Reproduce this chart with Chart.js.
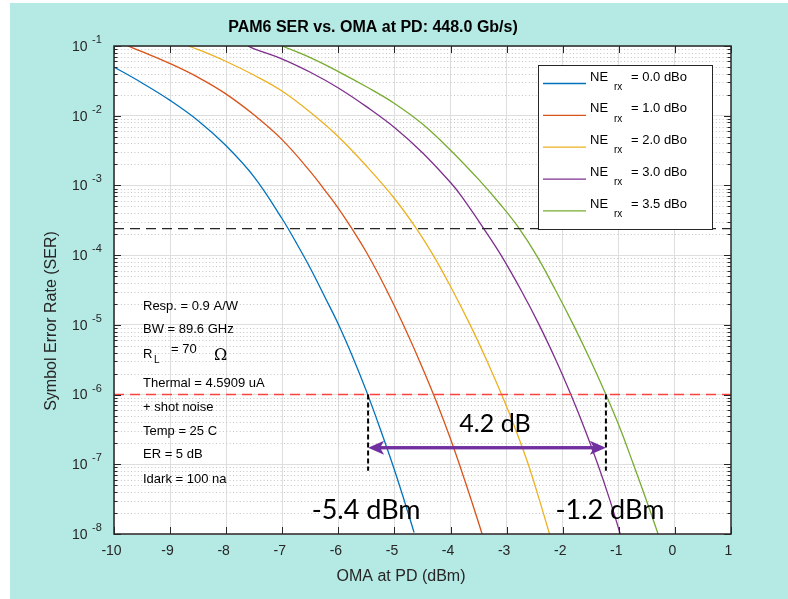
<!DOCTYPE html>
<html lang="en">
<head>
<meta charset="UTF-8">
<title>PAM6 SER vs. OMA at PD</title>
<script src="https://cdn.jsdelivr.net/npm/chart.js@4"></script>
<style>
  html, body { margin: 0; padding: 0; background: #fff; }
  canvas { display: block; }
</style>
</head>
<body>
<canvas id="grafica" width="788" height="599"></canvas>
<script>
// curves: OMA at PD (dBm) -> SER
const ne00_x   = [-10, -9.5, -9, -8.5, -8, -7.5, -7, -6.75, -6.5, -6.25, -6, -5.75, -5.5, -5.25, -5, -4.8, -4.65];
const ne00_ser = [5.0e-2, 2.95e-2, 1.66e-2, 8.5e-3, 3.7e-3, 1.32e-3, 3.3e-4, 1.5e-4, 6.5e-5, 2.6e-5, 1.02e-5, 3.55e-6, 1.12e-6, 3.16e-7, 8.3e-8, 2.6e-8, 1.05e-8];

const ne10_x   = [-9.75, -9.5, -9, -8.5, -8, -7.5, -7, -6.5, -6.25, -6, -5.75, -5.5, -5.25, -5, -4.75, -4.5, -4.25, -4, -3.75, -3.5, -3.4];
const ne10_ser = [1e-1, 8.3e-2, 5.6e-2, 3.55e-2, 2.04e-2, 1.02e-2, 4.5e-3, 1.58e-3, 8.7e-4, 4.7e-4, 2.34e-4, 1.1e-4, 4.7e-5, 1.86e-5, 6.9e-6, 2.4e-6, 7.8e-7, 2.3e-7, 6.0e-8, 1.45e-8, 7.9e-9];

const ne20_x   = [-8.68, -8.5, -8, -7.5, -7, -6.5, -6, -5.5, -5, -4.6, -4.31, -4, -3.65, -3.36, -3.09, -2.84, -2.615, -2.42, -2.235];
const ne20_ser = [1e-1, 8.9e-2, 6.0e-2, 3.8e-2, 2.24e-2, 1.12e-2, 5.0e-3, 1.9e-3, 6.5e-4, 2.35e-4, 1e-4, 3.55e-5, 1e-5, 3.16e-6, 1e-6, 3.16e-7, 1e-7, 3.16e-8, 1e-8];

const ne30_x   = [-7.61, -7.5, -7, -6.5, -6, -5.5, -5, -4.5, -4, -3.8, -3.4, -3.1, -2.745, -2.42, -2.125, -1.855, -1.605, -1.375, -1.165, -0.975];
const ne30_ser = [1e-1, 9.1e-2, 6.5e-2, 4.2e-2, 2.5e-2, 1.35e-2, 6.8e-3, 2.95e-3, 1.1e-3, 6.9e-4, 2.35e-4, 1e-4, 3.16e-5, 1e-5, 3.16e-6, 1e-6, 3.16e-7, 1e-7, 3.16e-8, 1e-8];

const ne35_x   = [-7.0, -6.5, -6, -5.5, -5, -4.5, -4, -3.48, -3.1, -2.79, -2.47, -2.13, -1.81, -1.51, -1.23, -0.97, -0.74, -0.515, -0.30];
const ne35_ser = [1e-1, 6.8e-2, 4.3e-2, 2.6e-2, 1.5e-2, 7.6e-3, 3.2e-3, 1.17e-3, 5.2e-4, 2.5e-4, 1e-4, 3.16e-5, 1e-5, 3.16e-6, 1e-6, 3.16e-7, 1e-7, 3.16e-8, 1e-8];

const neLabels  = ['0.0', '1.0', '2.0', '3.0', '3.5'];
const xTicks    = [-10, -9, -8, -7, -6, -5, -4, -3, -2, -1, 0, 1];
const yDecades  = [1e-8, 1e-7, 1e-6, 1e-5, 1e-4, 1e-3, 1e-2, 1e-1];
const yExps     = ['-8', '-7', '-6', '-5', '-4', '-3', '-2', '-1'];

const fecSer     = 2.4e-4;          // black dashed limit
const targetSer  = 1e-6;            // red dashed target
const crossOma   = [-5.47, -1.23];  // where NE 0.0 / NE 3.5 reach 1e-6
const dropSer    = 8.1e-8;          // lower end of the vertical markers
const arrowSer   = 1.73e-7;
const gapLabel   = '4.2 dB';
const crossLabels = ['-5.4 dBm', '-1.2 dBm'];
const infoLines  = ['Resp. = 0.9 A/W', 'BW = 89.6 GHz', 'R_L', 'Thermal = 4.5909 uA', '+ shot noise', 'Temp = 25 C', 'ER = 5 dB', 'Idark = 100 na'];

const colors = ['#0072BD', '#D95319', '#EDB120', '#7E2F8E', '#77AC30'];
const AXC = '#262626';
const FONT = '"Liberation Sans", Arial, sans-serif';

function pts(xs, ys) { return xs.map((x, i) => ({ x: x, y: ys[i] })); }

const curves = [[ne00_x, ne00_ser], [ne10_x, ne10_ser], [ne20_x, ne20_ser], [ne30_x, ne30_ser], [ne35_x, ne35_ser]];
const datasets = curves.map((c, i) => ({
  label: 'NE rx = ' + neLabels[i] + ' dBo',
  data: pts(c[0], c[1]),
  borderColor: colors[i],
  borderWidth: 1.3,
  pointRadius: 0,
  tension: 0.4,
  order: 5
}));
datasets.push(
  { label: 'fec', data: [{ x: -10, y: fecSer }, { x: 1, y: fecSer }], borderColor: AXC, borderWidth: 1.4, borderDash: [10, 6], pointRadius: 0, order: 2 },
  { label: 'target', data: [{ x: -10, y: targetSer }, { x: 1, y: targetSer }], borderColor: '#ff4040', borderWidth: 1.6, borderDash: [10, 6], pointRadius: 0, order: 2 },
  { label: 'v1', data: [{ x: crossOma[0], y: targetSer }, { x: crossOma[0], y: dropSer }], borderColor: '#000', borderWidth: 2, borderDash: [5, 3], pointRadius: 0, order: 1 },
  { label: 'v2', data: [{ x: crossOma[1], y: targetSer }, { x: crossOma[1], y: dropSer }], borderColor: '#000', borderWidth: 2, borderDash: [5, 3], pointRadius: 0, order: 1 },
  { label: 'arrow', data: [{ x: crossOma[0] + 0.2, y: arrowSer }, { x: crossOma[1] - 0.2, y: arrowSer }], borderColor: '#7030A0', borderWidth: 3, pointRadius: 0, order: 0 }
);

const decor = {
  id: 'decor',
  beforeDraw(chart) {
    const c = chart.ctx, a = chart.chartArea;
    c.save();
    c.fillStyle = '#fff';
    c.fillRect(0, 0, chart.width, chart.height);
    c.fillStyle = '#b5e9e4';
    c.fillRect(10, 3, chart.width - 10, chart.height - 3);
    c.fillStyle = '#fff';
    c.fillRect(a.left, a.top, a.right - a.left, a.bottom - a.top);
    c.restore();
  },
  beforeDatasetsDraw(chart) {
    // dotted minor grid of the log axis
    const c = chart.ctx, a = chart.chartArea, sy = chart.scales.y;
    c.save();
    c.strokeStyle = '#c4c4c4';
    c.lineWidth = 1;
    c.setLineDash([1, 2.4]);
    for (let d = 0; d < yDecades.length - 1; d++) {
      for (let m = 2; m <= 9; m++) {
        const py = Math.round(sy.getPixelForValue(yDecades[d] * m)) + 0.5;
        c.beginPath(); c.moveTo(a.left, py); c.lineTo(a.right, py); c.stroke();
      }
    }
    c.restore();
  },
  afterDatasetsDraw(chart) {
    const c = chart.ctx, a = chart.chartArea, sx = chart.scales.x, sy = chart.scales.y;
    c.save();
    // arrow heads
    const ay = sy.getPixelForValue(arrowSer);
    const heads = [[sx.getPixelForValue(crossOma[0]), 1], [sx.getPixelForValue(crossOma[1]), -1]];
    c.fillStyle = '#7030A0';
    heads.forEach(([hx, dir]) => {
      c.beginPath();
      c.moveTo(hx, ay);
      c.lineTo(hx + dir * 16, ay - 7);
      c.lineTo(hx + dir * 12, ay);
      c.lineTo(hx + dir * 16, ay + 7);
      c.closePath(); c.fill();
    });
    c.fillRect(sx.getPixelForValue(crossOma[0]) + 12, ay - 1.5, sx.getPixelForValue(crossOma[1]) - sx.getPixelForValue(crossOma[0]) - 24, 3);

    // axes box and inward ticks
    c.strokeStyle = AXC;
    c.lineWidth = 1.5;
    c.strokeRect(a.left, a.top, a.right - a.left, a.bottom - a.top);
    c.lineWidth = 1;
    c.beginPath();
    xTicks.forEach(v => {
      const px = Math.round(sx.getPixelForValue(v)) + 0.5;
      c.moveTo(px, a.bottom); c.lineTo(px, a.bottom - 7);
      c.moveTo(px, a.top); c.lineTo(px, a.top + 7);
    });
    for (let d = 0; d < yDecades.length; d++) {
      const py = Math.round(sy.getPixelForValue(yDecades[d])) + 0.5;
      c.moveTo(a.left, py); c.lineTo(a.left + 7, py);
      c.moveTo(a.right, py); c.lineTo(a.right - 7, py);
      if (d < yDecades.length - 1) {
        for (let m = 2; m <= 9; m++) {
          const pm = Math.round(sy.getPixelForValue(yDecades[d] * m)) + 0.5;
          c.moveTo(a.left, pm); c.lineTo(a.left + 3.5, pm);
          c.moveTo(a.right, pm); c.lineTo(a.right - 3.5, pm);
        }
      }
    }
    c.stroke();

    // tick labels
    c.fillStyle = AXC;
    c.textBaseline = 'middle';
    c.textAlign = 'center';
    c.font = '14px ' + FONT;
    xTicks.forEach(v => c.fillText(String(v), sx.getPixelForValue(v) - 2.5, a.bottom + 17));
    yDecades.forEach((v, i) => {
      const py = sy.getPixelForValue(v);
      c.textAlign = 'left';
      c.font = '14px ' + FONT;
      c.fillText('10', a.left - 42, py + 1);
      c.font = '11px ' + FONT;
      c.fillText(yExps[i], a.left - 22, py - 6);
    });

    // axis titles and title
    c.textAlign = 'center';
    c.font = '16px ' + FONT;
    c.fillText('OMA at PD (dBm)', 401, 577);
    c.save();
    c.translate(52, 321);
    c.rotate(-Math.PI / 2);
    c.fillText('Symbol Error Rate (SER)', 0, 0);
    c.restore();
    c.font = 'bold 16px ' + FONT;
    c.fillStyle = '#000';
    c.fillText('PAM6 SER vs. OMA at PD: 448.0 Gb/s)', 373, 28);

    // parameter block
    c.font = '13px ' + FONT;
    c.textAlign = 'left';
    c.fillStyle = '#000';
    const ys = [306, 329, 352, 383, 407, 431, 454, 479];
    infoLines.forEach((t, i) => {
      if (t === 'R_L') {
        c.fillText('R', 143, ys[i] + 2);
        c.font = '10px ' + FONT;
        c.fillText('L', 154, ys[i] + 8);
        c.font = '13px ' + FONT;
        c.fillText('= 70', 171, ys[i] - 3);
        c.font = '16px "DejaVu Serif", serif';
        c.fillText('\u03A9', 214, ys[i] + 4);
        c.font = '13px ' + FONT;
      } else {
        c.fillText(t, 143, ys[i]);
      }
    });

    // big annotations
    c.font = '25px Lato, "Open Sans", sans-serif';
    c.fillStyle = '#000';
    c.textAlign = 'center';
    const mid = (sx.getPixelForValue(crossOma[0]) + sx.getPixelForValue(crossOma[1])) / 2;
    c.fillText(gapLabel, mid + 8, 424);
    c.font = '27px Lato, "Open Sans", sans-serif';
    c.fillText(crossLabels[0], sx.getPixelForValue(crossOma[0]) - 2, 510);
    c.fillText(crossLabels[1], sx.getPixelForValue(crossOma[1]) + 4, 510);
    c.restore();
  },
  afterDraw(chart) {
    // legend with subscripts
    const c = chart.ctx;
    c.save();
    c.fillStyle = '#fff';
    c.fillRect(538, 65, 174, 164);
    c.strokeStyle = AXC;
    c.lineWidth = 1;
    c.strokeRect(538.5, 65.5, 174, 164);
    c.textBaseline = 'middle';
    c.textAlign = 'left';
    neLabels.forEach((lab, i) => {
      const ly = 83.5 + i * 31.85;
      c.strokeStyle = chart.data.datasets[i].borderColor;
      c.lineWidth = 1.3;
      c.beginPath(); c.moveTo(543, ly); c.lineTo(586, ly); c.stroke();
      c.fillStyle = '#000';
      c.font = '13px ' + FONT;
      c.fillText('NE', 590, ly - 6.5);
      c.font = '10px ' + FONT;
      c.fillText('rx', 614, ly + 3.5);
      c.font = '13px ' + FONT;
      c.fillText('= ' + lab + ' dBo', 631, ly - 6.5);
    });
    c.restore();
  }
};

new Chart(document.getElementById('grafica'), {
  type: 'line',
  data: { datasets: datasets },
  options: {
    responsive: false,
    animation: false,
    devicePixelRatio: 1,
    layout: { padding: { left: 114, top: 46, right: 57, bottom: 65 } },
    plugins: { legend: { display: false }, tooltip: { enabled: false } },
    scales: {
      x: {
        type: 'linear', min: -10, max: 1,
        ticks: { display: false, stepSize: 1 },
        grid: { color: '#dedede', drawTicks: false },
        border: { display: false }
      },
      y: {
        type: 'logarithmic', min: 1e-8, max: 1e-1,
        afterBuildTicks: s => { s.ticks = yDecades.map(v => ({ value: v })); },
        ticks: { display: false },
        grid: { color: '#dedede', drawTicks: false },
        border: { display: false }
      }
    }
  },
  plugins: [decor]
});
</script>
</body>
</html>
